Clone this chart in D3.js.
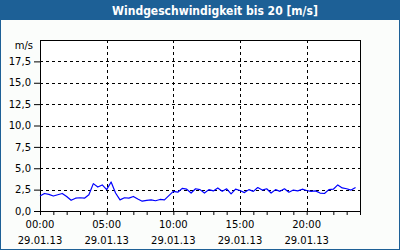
<!DOCTYPE html>
<html lang="de">
<head>
<meta charset="UTF-8">
<title>Windgeschwindigkeit</title>
<script src="https://cdn.jsdelivr.net/npm/d3@7"></script>
<style>
  body { margin: 0; background: #fff; }
  svg { display: block; }
</style>
</head>
<body>
<svg id="svg" width="400" height="250"></svg>
<script>
// Stunden seit 29.01.13 00:00, 20-Minuten-Raster
const speed = [
  1.75, 2.05, 1.95, 1.75, 1.9, 2.05, 1.7, 1.25, 1.5, 1.55, 1.5, 1.9,
  3.2, 2.8, 3.05, 2.5, 3.4, 2.1, 1.3, 1.55, 1.5, 1.7, 1.4, 1.15,
  1.25, 1.3, 1.2, 1.35, 1.3, 1.8, 2.3, 2.2, 2.65, 2.55, 2.1, 2.6,
  2.5, 2.1, 2.5, 2.35, 2.7, 2.3, 2.6, 2.0, 2.55, 2.4, 2.15, 2.5,
  2.3, 2.75, 2.45, 2.6, 2.1, 2.5, 2.3, 2.6, 2.2, 2.45, 2.35, 2.55,
  2.4, 2.3, 2.35, 2.1, 2.05, 2.5, 2.55, 3.05, 2.7, 2.6, 2.45, 2.75
];
const hours = speed.map((d, i) => i / 3);
const yTicks = [0, 2.5, 5, 7.5, 10, 12.5, 15, 17.5];
const xMajor = [0, 5, 10, 15, 20];
const dateLabel = "29.01.13";
const title = "Windgeschwindigkeit bis 20 [m/s]";

const svg = d3.select("#svg");
const width = +svg.attr("width"), height = +svg.attr("height");
const margin = {top: 40, right: 40, bottom: 39, left: 40};

// Rahmen + Titelleiste
svg.append("rect").attr("x", 0.5).attr("y", 0.5).attr("width", width - 1).attr("height", height - 1)
  .attr("fill", "#fbfdfb").attr("stroke", "#1d6096").attr("stroke-width", 1);
svg.append("rect").attr("x", 0).attr("y", 0).attr("width", width).attr("height", 20).attr("fill", "#1d6096");
svg.append("text").attr("x", 215).attr("y", 15).attr("text-anchor", "middle")
  .attr("font-family", "DejaVu Sans Condensed, DejaVu Sans").attr("font-weight", "bold")
  .attr("font-size", 12).attr("fill", "#fff").text(title);

const x = d3.scaleLinear().domain([0, 24]).range([margin.left, width - margin.right]);
const y = d3.scaleLinear().domain([0, 20]).range([height - margin.bottom, margin.top]);

const g = svg.append("g").attr("font-family", "DejaVu Sans").attr("font-size", 10);

g.append("rect").attr("x", x(0)).attr("y", y(20)).attr("width", x(24) - x(0)).attr("height", y(0) - y(20))
  .attr("fill", "#fff");

// Gitter
g.selectAll(".hgrid").data(yTicks.filter(d => d > 0)).join("line")
  .attr("x1", x(0)).attr("x2", x(24)).attr("y1", d => Math.round(y(d)) + 0.5).attr("y2", d => Math.round(y(d)) + 0.5)
  .attr("stroke", "#000").attr("stroke-dasharray", "3,3");
g.selectAll(".vgrid").data(xMajor.filter(d => d > 0)).join("line")
  .attr("x1", d => Math.round(x(d)) + 0.5).attr("x2", d => Math.round(x(d)) + 0.5).attr("y1", y(20)).attr("y2", y(0))
  .attr("stroke", "#000").attr("stroke-dasharray", "3,3");

// Achsen
const yAxis = d3.axisLeft(y).tickValues(yTicks).tickSize(6).tickPadding(3)
  .tickFormat(d => d3.format(".1f")(d).replace(".", ","));
g.append("g").attr("transform", `translate(${x(0)},0)`).call(yAxis)
  .call(a => a.select(".domain").remove())
  .call(a => a.selectAll("text").attr("fill", "#000").attr("font-family", "DejaVu Sans").attr("font-size", 10));

const xAxis = d3.axisBottom(x).tickValues(d3.range(0, 25)).tickSize(4).tickFormat("");
g.append("g").attr("transform", `translate(0,${y(0)})`).call(xAxis)
  .call(a => a.select(".domain").remove());

const xl = g.selectAll(".xlab").data(xMajor).join("text")
  .attr("text-anchor", "middle").attr("fill", "#000");
xl.append("tspan").attr("x", d => x(d)).attr("y", 228).text(d => d3.format("02d")(d) + ":00");
xl.append("tspan").attr("x", d => x(d)).attr("y", 244).text(dateLabel);

g.append("text").attr("x", 33).attr("y", 49).attr("text-anchor", "end").attr("fill", "#000").text("m/s");

// Plotrahmen
g.append("rect").attr("x", x(0) + 0.5).attr("y", y(20) + 0.5).attr("width", x(24) - x(0)).attr("height", y(0) - y(20))
  .attr("fill", "none").attr("stroke", "#000");

// Messwerte
g.append("path").datum(speed)
  .attr("fill", "none").attr("stroke", "#0000ff").attr("stroke-width", 1.2)
  .attr("stroke-linejoin", "round")
  .attr("d", d3.line().x((d, i) => x(hours[i])).y(d => y(d)));
</script>
</body>
</html>
